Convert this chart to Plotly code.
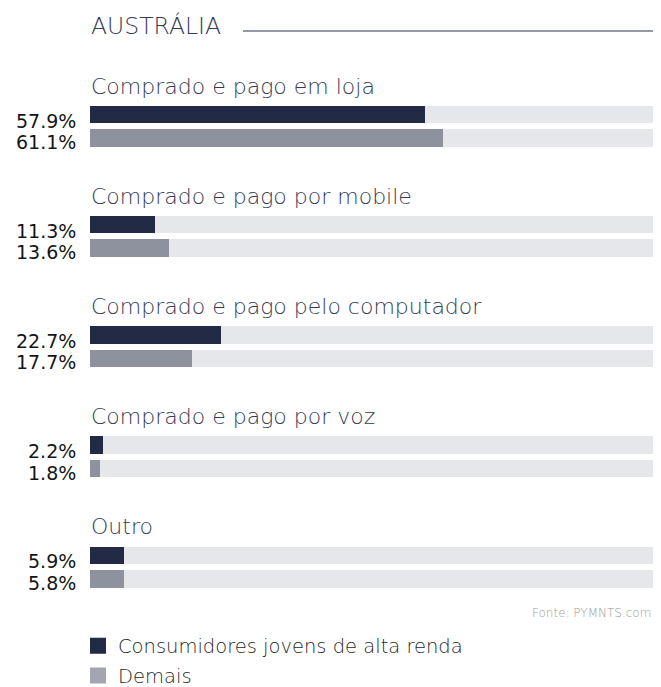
import plotly.graph_objects as go

# data
categorias = [
    "Comprado e pago em loja",
    "Comprado e pago por mobile",
    "Comprado e pago pelo computador",
    "Comprado e pago por voz",
    "Outro",
]
jovens = [57.9, 11.3, 22.7, 2.2, 5.9]
demais = [61.1, 13.6, 17.7, 1.8, 5.8]
serie_nomes = ["Consumidores jovens de alta renda", "Demais"]

# the page puts the plot 8px in from the top-left corner
OFF = 8
W, H = 661 - OFF, 687 - OFF
NAVY = "#222a45"
GRAY = "#8e919e"
TRACK = "#e6e7ea"
LABEL = "#343b55"
FONT = "DejaVu Sans"


def px(xw):
    return (xw - OFF) / W


def py(yw):
    return yw - OFF


pitch = 110.2
y_j = [py(114.5 + pitch * i) for i in range(len(categorias))]
y_d = [py(138.0 + pitch * i) for i in range(len(categorias))]
y_cat = [py(86.0 + pitch * i) for i in range(len(categorias))]
bar_h = 17.5

fig = go.Figure()

# background tracks
fig.add_trace(go.Bar(x=[100] * (2 * len(categorias)), y=y_j + y_d, orientation="h",
                     width=bar_h, marker=dict(color=TRACK, line_width=0),
                     showlegend=False, hoverinfo="skip"))
fig.add_trace(go.Bar(x=jovens, y=y_j, orientation="h", width=bar_h,
                     marker=dict(color=NAVY, line_width=0), name=serie_nomes[0],
                     showlegend=False))
fig.add_trace(go.Bar(x=demais, y=y_d, orientation="h", width=bar_h,
                     marker=dict(color=GRAY, line_width=0), name=serie_nomes[1],
                     showlegend=False))

# legend entries
for nome, cor, grp in [(serie_nomes[0], NAVY, "a"), (serie_nomes[1], "#a3a6b1", "b")]:
    fig.add_trace(go.Scatter(x=[None], y=[None], mode="markers", name=nome,
                             legendgroup=grp,
                             marker=dict(symbol="square", size=17, color=cor)))

annotations = []
for i, cat in enumerate(categorias):
    annotations.append(dict(text=cat, x=px(89), xref="paper", xanchor="left",
                            y=y_cat[i], yref="y", yanchor="middle", showarrow=False,
                            font=dict(family=FONT, size=22, color=LABEL, weight=300)))
    annotations.append(dict(text=f"{jovens[i]}%", x=px(78), xref="paper", xanchor="right",
                            y=y_j[i] + 6, yref="y", yanchor="middle", showarrow=False,
                            font=dict(family=FONT, size=19, color="#151515")))
    annotations.append(dict(text=f"{demais[i]}%", x=px(78), xref="paper", xanchor="right",
                            y=y_d[i] + 4, yref="y", yanchor="middle", showarrow=False,
                            font=dict(family=FONT, size=19, color="#151515")))

annotations.append(dict(text="AUSTRÁLIA", x=px(89), xref="paper", xanchor="left",
                        y=py(26), yref="y", yanchor="middle", showarrow=False,
                        font=dict(family=FONT, size=23.5, color=LABEL, weight=300)))
annotations.append(dict(text="Fonte: PYMNTS.com", x=px(653), xref="paper", xanchor="right",
                        y=py(612.5), yref="y", yanchor="middle", showarrow=False,
                        font=dict(family=FONT, size=12, color="#9a9a9a", weight=300)))

fig.update_layout(
    width=W, height=H,
    margin=dict(l=0, r=0, t=0, b=0, autoexpand=False),
    paper_bgcolor="white", plot_bgcolor="white",
    barmode="overlay", bargap=0,
    xaxis=dict(domain=[px(90), 1], range=[0, 571 / 5.78], visible=False, fixedrange=True),
    yaxis=dict(range=[H, 0], visible=False, fixedrange=True),
    annotations=annotations,
    shapes=[dict(type="line", xref="paper", yref="y", x0=px(243), x1=1, y0=py(31), y1=py(31),
                 line=dict(color="#2b3350", width=1))],
    legend=dict(x=px(78), xanchor="left", y=1 - py(626.5) / H, yanchor="top",
                font=dict(family=FONT, size=19.5, color="#1f1f1f", weight=300),
                tracegroupgap=1.5, bgcolor="rgba(0,0,0,0)"),
)

fig.write_html("out.html")
